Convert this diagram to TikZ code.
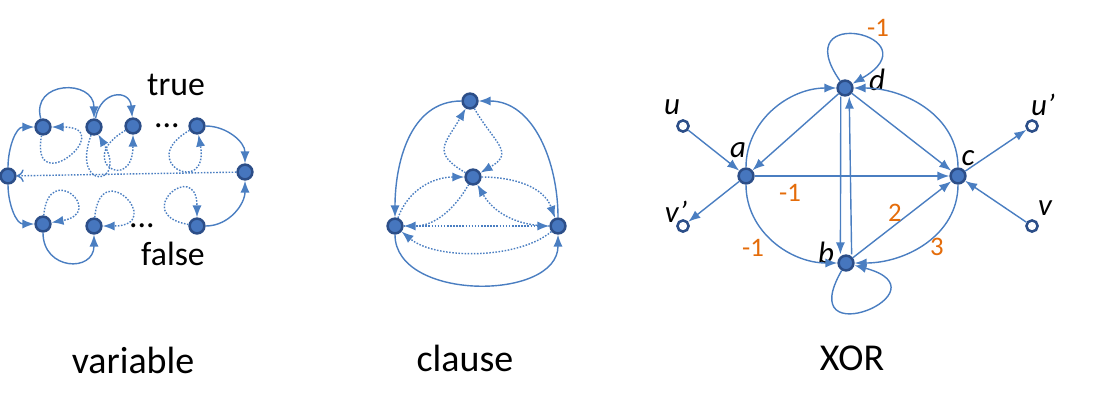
\documentclass[tikz,border=0pt]{standalone}
\usepackage{fontspec}
\setmainfont{Carlito}
\usepackage{xcolor}
\usepackage{tikz}
\usetikzlibrary{arrows.meta}
\definecolor{edgeblue}{RGB}{74,126,193}
\definecolor{nodeedge}{RGB}{44,78,136}
\definecolor{nodefill}{RGB}{70,118,190}
\definecolor{wtorange}{RGB}{228,108,10}
\tikzstyle{vtx} = [circle, draw=nodeedge, fill=nodefill, line width=1.8pt, inner sep=0pt, minimum size=0.37cm]
\tikzstyle{port} = [circle, draw=nodeedge, fill=white, line width=1.8pt, inner sep=0pt, minimum size=0.28cm]
\tikzstyle{line} = [draw=edgeblue, line width=1pt, -{Latex[length=8.5pt,width=6.5pt]}]
\tikzstyle{dotline} = [line, dash pattern=on 1.1pt off 1.1pt]
\tikzstyle{lbl} = [font=\fontsize{22}{24}\selectfont\itshape]
\tikzstyle{wt} = [text=wtorange, font=\fontsize{19}{22}\selectfont]
\tikzstyle{title} = [font=\fontsize{27}{30}\selectfont]

\begin{document}
\begin{tikzpicture}[x=0.025cm,y=0.025cm]
\useasboundingbox (0,0) rectangle (1102,-410);

% variable gadget
\node [vtx] (l) at (8,-176) {};
\node [vtx] (r) at (245,-172) {};
\node [vtx] (t1) at (43,-127) {};
\node [vtx] (t2) at (94,-127) {};
\node [vtx] (t3) at (133,-126) {};
\node [vtx] (tn) at (197,-126) {};
\node [vtx] (f1) at (43,-224) {};
\node [vtx] (f2) at (94,-226) {};
\node [vtx] (fn) at (197,-226) {};
\node [title, font=\fontsize{24}{26}\selectfont, inner sep=0pt, anchor=base] (tdots) at (167,-127) {...};
\node [title, font=\fontsize{24}{26}\selectfont, inner sep=0pt, anchor=base] (fdots) at (142,-227) {...};
\node [title, font=\fontsize{24}{26}\selectfont, inner sep=0pt] (true) at (176,-85) {true};
\node [title, font=\fontsize{24}{26}\selectfont, inner sep=0pt] (false) at (173,-254) {false};
\path [line] (l) to[out=90,in=180] (t1);
\path [line] (l) to[out=-90,in=180] (f1);
\path [line] (t1) to[out=105,in=90,looseness=1.9] (t2);
\path [line] (t2) to[out=80,in=95,looseness=2] (t3);
\path [line] (tn) to[out=0,in=90] (r);
\path [line] (fn) to[out=0,in=-90] (r);
\path [line] (f1) to[out=-90,in=-90,looseness=1.9] (f2);
\path [dotline, -{To[length=5pt,width=9pt]}] (r) -- (l);
\path [dotline] (t1) to[out=-100,in=0,min distance=1.7cm] (t1);
\path [dotline] (t2) to[out=-110,in=-60,min distance=1.5cm] (t2);
\path [dotline] (t3) to[out=-150,in=-90,min distance=1.5cm] (t3);
\path [dotline] (tn) to[out=-150,in=-80,min distance=1.6cm] (tn);
\path [dotline] (f1) to[out=85,in=10,min distance=1.4cm] (f1);
\path [dotline] (f2) to[out=85,in=0,min distance=1.6cm] (f2);
\path [dotline] (fn) to[out=170,in=90,min distance=1.5cm] (fn);
\node [title] (vartitle) at (133,-360) {variable};

% clause gadget
\node [vtx] (ct) at (470,-101) {};
\node [vtx] (cc) at (473,-177) {};
\node [vtx] (cl) at (395,-226) {};
\node [vtx] (cr) at (558,-226) {};
\path [line] (ct) to[out=180,in=90] (cl);
\path [line] (cr) to[out=90,in=0] (ct);
\path [line] (cl) to[out=-90,in=-90,looseness=1.05] (cr);
\path [dotline] (cc) to[out=150,in=-120,looseness=1.6] (ct);
\path [dotline] (ct) to[out=-60,in=30,looseness=1.6] (cc);
\path [dotline] (cl) to[out=70,in=180] (cc);
\path [dotline] (cc) to[out=-120,in=0] (cl);
\path [dotline] (cc) to[out=0,in=110] (cr);
\path [dotline] (cr) to[out=180,in=-60] (cc);
\path [dotline] (cl) -- (cr);
\path [dotline] (cr) to[out=-140,in=-40,looseness=0.75] (cl);
\node [title] (clausetitle) at (465,-358) {clause};

% XOR gadget
\node [vtx] (d) at (845,-88) {};
\node [vtx] (a) at (746,-176) {};
\node [vtx] (c) at (958,-176) {};
\node [vtx] (b) at (846,-263) {};
\node [port] (u) at (683,-126) {};
\node [port] (vp) at (683,-226) {};
\node [port] (up) at (1032,-126) {};
\node [port] (v) at (1032,-226) {};
\node [lbl] (ulbl) at (672,-107) {u};
\node [lbl] (vplbl) at (676,-212) {v’};
\node [lbl] (uplbl) at (1043,-105) {u’};
\node [lbl] (vlbl) at (1045,-208) {v};
\node [lbl] (albl) at (738,-150) {a};
\node [lbl] (dlbl) at (877,-80) {d};
\node [lbl] (clbl) at (968,-158) {c};
\node [lbl] (blbl) at (826,-253) {b};
\path [line] (u) -- (a);
\path [line] (a) -- (vp);
\path [line] (c) -- (up);
\path [line] (v) -- (c);
\path [line] (d) to[out=125,in=30,min distance=2.4cm] (d);
\path [line] (b) to[out=-120,in=-15,min distance=2.5cm] (b);
\path [line] (a) to[out=90,in=180] (d);
\path [line] (c) to[out=90,in=0] (d);
\path [line] (a) to[out=-90,in=180] (b);
\path [line] (c) to[out=-90,in=0] (b);
\path [line] (d) -- (a);
\path [line] (d) -- (c);
\path [line] (a) -- (c);
\path [line] (b) -- (c);
\path [line] ([xshift=-3pt]d.south) -- ([xshift=-4pt]b.north);
\path [line] ([xshift=4pt]b.north) -- ([xshift=3pt]d.south);
\node [wt] (wdd) at (878,-28) {-1};
\node [wt] (wac) at (790,-193) {-1};
\node [wt] (wab) at (753,-248) {-1};
\node [wt] (wbc) at (895,-213) {2};
\node [wt] (wcb) at (937,-247) {3};
\node [title] (xortitle) at (852,-358) {XOR};
\end{tikzpicture}
\end{document}
